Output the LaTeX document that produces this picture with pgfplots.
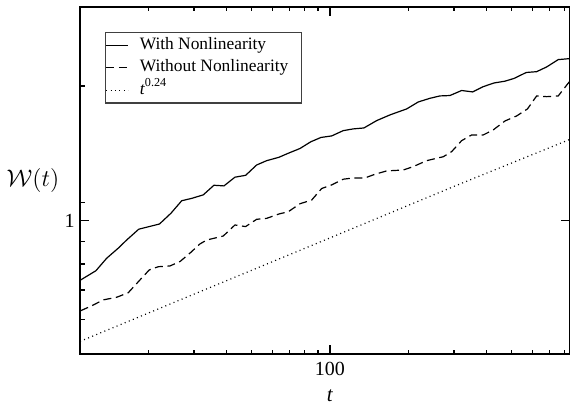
\documentclass[border=0pt]{standalone}
\usepackage{pgfplots}
\pgfplotsset{compat=1.18}
\usepackage{fontspec}
\setmainfont{Liberation Serif}

\pgfplotstableread{
t W
11.0 0.737
12.59 0.773
13.84 0.824
15.34 0.868
16.52 0.905
18.39 0.957
22.10 0.983
24.46 1.039
26.90 1.108
29.45 1.122
32.56 1.142
35.79 1.200
39.12 1.196
43.11 1.251
47.39 1.263
52.24 1.332
57.08 1.362
63.65 1.386
69.12 1.415
76.67 1.450
84.35 1.501
92.34 1.535
101.5 1.547
112.5 1.590
122.9 1.604
135.1 1.612
151.2 1.674
170.1 1.724
197.2 1.778
218.6 1.843
242.4 1.878
264.9 1.901
289.4 1.905
321.0 1.955
353.8 1.941
388.7 1.994
427.3 2.032
471.0 2.051
510.2 2.080
568.9 2.145
623.7 2.154
681.6 2.207
755.1 2.292
837.7 2.304
}\withnl

\pgfplotstableread{
t W
11.0 0.629
12.12 0.645
13.42 0.665
15.12 0.674
16.76 0.690
18.59 0.737
20.18 0.776
21.86 0.789
24.24 0.792
26.49 0.810
28.94 0.846
31.62 0.887
33.56 0.905
38.87 0.924
43.11 0.978
47.39 0.970
52.24 1.007
57.08 1.012
63.65 1.035
69.12 1.047
76.67 1.091
85.05 1.112
92.9 1.180
101.5 1.202
112.5 1.238
122.9 1.246
136.3 1.246
149.0 1.270
165.2 1.292
191.4 1.298
209.1 1.321
235.4 1.362
272.8 1.390
293.8 1.427
321.0 1.510
350.7 1.555
388.7 1.555
424.7 1.596
471.0 1.671
522.5 1.715
575.0 1.778
623.7 1.901
681.6 1.894
755.1 1.901
837.7 2.053
}\withoutnl

\pgfplotstableread{
t W
10.93 0.537
30 0.685
100 0.915
300 1.193
838 1.520
}\powerlaw

\begin{document}
\begin{tikzpicture}
\begin{axis}[
  name=ax,
  scale only axis,
  width=245pt, height=173.8pt,
  xmode=log, ymode=log,
  xmin=10.93, xmax=838, ymin=0.5025, ymax=3.01,
  axis line style={line width=0.85pt},
  every tick/.style={black, line width=0.6pt},
  major tick length=4.7pt, minor tick length=2.3pt,
  xtick={100}, xticklabels={100},
  minor xtick={20,30,40,50,60,70,80,90,200,300,400,500,600,700,800},
  ytick={1}, yticklabels={1},
  minor ytick={0.6,0.7,0.8,0.9,1.1,2},
  ytick pos=left,
  extra y ticks={1}, extra y tick labels={},
  extra y tick style={ytick pos=right},
  /pgf/number format/assume math mode=true,
  tick label style={font=\fontsize{10}{12}\selectfont},
  xticklabel style={inner sep=0pt, anchor=north, yshift=-3.6pt},
  yticklabel style={inner sep=0pt, anchor=east, xshift=-2.5pt},
  xlabel={\textit{t}},
  xlabel style={at={(axis description cs:0.51,0)}, anchor=north, yshift=-17.5pt, inner sep=0pt, font=\fontsize{10.5}{12}\selectfont},
  ylabel={$\mathcal{W}(t)$},
  ylabel style={rotate=-90, at={(axis description cs:-0.096,0.5)}, anchor=center, inner sep=0pt, font=\fontsize{12.5}{15}\selectfont},
  legend style={at={(axis description cs:0.051,0.927)}, anchor=north west,
    draw=black!75, line width=0.6pt, inner xsep=0pt, inner ysep=0.8pt,
    font=\fontsize{8.7}{10.5}\selectfont, row sep=0pt, column sep=4pt,
    nodes={inner xsep=1.5pt, inner ysep=0pt, text height=7.6pt, text depth=3.6pt}},
  legend cell align=left,
  legend image code/.code={\draw[#1, line width=0.6pt] (0pt,0pt) -- (11pt,0pt);},
]
\addplot[black, line width=0.6pt] table[x=t, y=W] {\withnl};
\addlegendentry{With Nonlinearity}
\addplot[black, line width=0.6pt, dash pattern=on 4pt off 2.3pt] table[x=t, y=W] {\withoutnl};
\addlegendentry{Without Nonlinearity\hspace*{5pt}}
\addplot[black, line width=0.6pt, dash pattern=on 0.5pt off 1.7pt] table[x=t, y=W] {\powerlaw};
\addlegendentry{\textit{t}\textsuperscript{0.24}}
\end{axis}
\pgfresetboundingbox
\path ([xshift=-40pt,yshift=-24.85pt]ax.south west) rectangle ([yshift=3.35pt]ax.north east);
\end{tikzpicture}
\end{document}
